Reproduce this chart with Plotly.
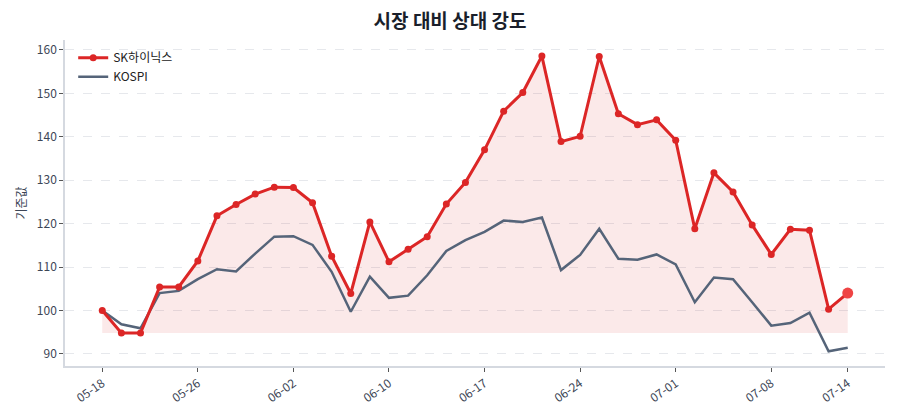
import plotly.graph_objects as go

dates = ["05-18","05-19","05-20","05-21","05-22","05-26","05-27","05-28","05-29","06-01",
         "06-02","06-04","06-05","06-08","06-09","06-10","06-11","06-12","06-15","06-16",
         "06-17","06-18","06-19","06-22","06-23","06-24","06-25","06-26","06-29","06-30",
         "07-01","07-02","07-03","07-06","07-07","07-08","07-09","07-10","07-13","07-14"]
sk = [100.0, 94.8, 94.8, 105.4, 105.4, 111.4, 121.8, 124.4, 126.8, 128.4,
      128.3, 124.8, 112.5, 103.9, 120.4, 111.2, 114.1, 117.0, 124.5, 129.5,
      137.0, 145.9, 150.2, 158.6, 138.9, 140.1, 158.5, 145.3, 142.8, 143.9,
      139.2, 118.8, 131.7, 127.3, 119.7, 112.9, 118.7, 118.5, 100.3, 104.0]
kospi = [100.0, 96.8, 95.9, 104.0, 104.5, 107.2, 109.5, 109.0, 113.1, 117.0,
         117.1, 115.1, 108.9, 99.7, 107.8, 102.9, 103.4, 108.1, 113.7, 116.2,
         118.1, 120.7, 120.4, 121.4, 109.3, 112.8, 118.8, 111.9, 111.7, 112.9,
         110.6, 101.9, 107.6, 107.2, 101.9, 96.5, 97.1, 99.5, 90.6, 91.4]
tick_labels = ["05-18","05-26","06-02","06-10","06-17","06-24","07-01","07-08","07-14"]
y_ticks = [90, 100, 110, 120, 130, 140, 150, 160]

RED = "#dc2626"
SLATE = "#556479"
FONT = "Noto Sans CJK KR"

xi = list(range(len(dates)))
tickvals = [dates.index(t) for t in tick_labels]
base = min(sk)

fig = go.Figure()
fig.add_trace(go.Scatter(x=xi, y=[base]*len(xi), mode="lines", line=dict(width=0),
                         showlegend=False, hoverinfo="skip"))
fig.add_trace(go.Scatter(x=xi, y=sk, mode="lines", line=dict(width=0), fill="tonexty",
                         fillcolor="rgba(220,38,38,0.10)", showlegend=False, hoverinfo="skip"))
fig.add_trace(go.Scatter(x=xi, y=kospi, mode="lines", name="KOSPI", legendrank=2,
                         line=dict(color=SLATE, width=2.5)))
fig.add_trace(go.Scatter(x=xi, y=sk, mode="lines+markers", name="SK하이닉스", legendrank=1,
                         line=dict(color=RED, width=3), marker=dict(size=7, color=RED)))
fig.add_trace(go.Scatter(x=[xi[-1]], y=[sk[-1]], mode="markers", showlegend=False,
                         marker=dict(size=11, color="#ef4444")))

fig.update_layout(
    width=900, height=420,
    margin=dict(l=65, r=15, t=40, b=54),
    paper_bgcolor="white", plot_bgcolor="white",
    font=dict(family=FONT, size=12, color="#3d4656"),
    title=dict(text="<b>시장 대비 상대 강도</b>", x=0.5, xanchor="center", y=0.948, yanchor="middle",
               font=dict(family=FONT, size=19, color="#1a1f2b")),
    legend=dict(x=0.01, y=0.99, xanchor="left", yanchor="top", bgcolor="rgba(255,255,255,0)",
                traceorder="normal", font=dict(size=12, color="#222")),
    showlegend=True,
)
fig.update_xaxes(range=[-1.95, 40.95], tickvals=tickvals, ticktext=tick_labels, tickangle=-35,
                 showgrid=False, zeroline=False, showline=True, linecolor="#d5d9e0", linewidth=1.5,
                 ticks="outside", ticklen=4, tickcolor="#555", tickfont=dict(size=12, color="#3d4656"))
fig.update_yaxes(range=[87.2, 162.3], tickvals=y_ticks, showgrid=True, gridcolor="#e6e8ec",
                 griddash="dash", zeroline=False, showline=True, linecolor="#d5d9e0", linewidth=1.5,
                 ticks="outside", ticklen=4, tickcolor="#555", tickfont=dict(size=12, color="#3d4656"),
                 title=dict(text="기준값", font=dict(size=12, color="#3d4656"), standoff=8))

fig.write_html("out.html")
